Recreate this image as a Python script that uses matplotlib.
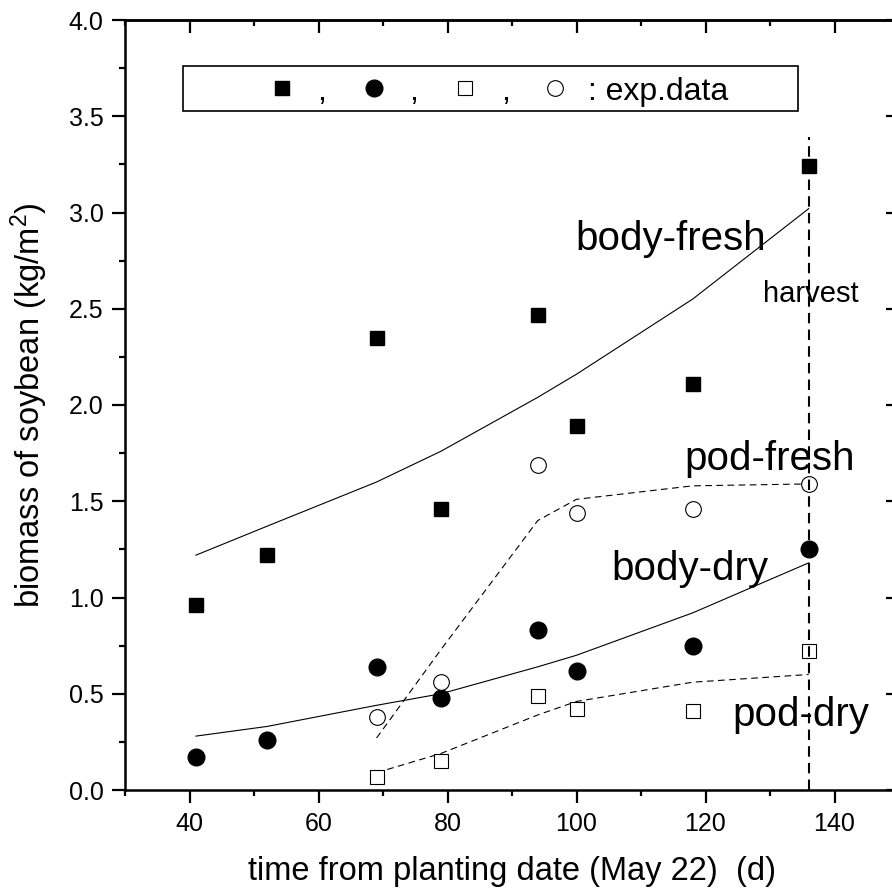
import matplotlib
matplotlib.use('Agg')
import matplotlib.pyplot as plt
from matplotlib.patches import Rectangle
from matplotlib.ticker import MultipleLocator

plt.rcParams['font.family'] = ['Liberation Sans', 'DejaVu Sans']
plt.rcParams['mathtext.fontset'] = 'custom'
plt.rcParams['mathtext.rm'] = 'Liberation Sans'

# measured biomass (kg/m2), days after planting
days = [41, 52, 69, 79, 94, 100, 118, 136]
body_fresh = [0.96, 1.22, 2.35, 1.46, 2.47, 1.89, 2.11, 3.24]
body_dry = [0.17, 0.26, 0.64, 0.48, 0.83, 0.62, 0.75, 1.25]

pod_days = [69, 79, 94, 100, 118, 136]
pod_fresh = [0.38, 0.56, 1.69, 1.44, 1.46, 1.59]
pod_dry = [0.07, 0.15, 0.49, 0.42, 0.41, 0.72]

# simulated curves
sim_body_fresh = [1.22, 1.37, 1.60, 1.76, 2.04, 2.16, 2.55, 3.02]
sim_body_dry = [0.28, 0.33, 0.44, 0.50, 0.64, 0.70, 0.92, 1.18]
sim_pod_fresh = [0.27, 0.73, 1.40, 1.51, 1.58, 1.59]
sim_pod_dry = [0.09, 0.19, 0.39, 0.46, 0.56, 0.60]

harvest_day = 136
harvest_top = 3.39

SPINE_LW = 1.8

fig = plt.figure(figsize=(8.92, 8.94), dpi=100)
ax = fig.add_axes([125 / 892, 104 / 894, 774 / 892, 770 / 894])

# model lines
ax.plot(days, sim_body_fresh, color='black', lw=0.8)
ax.plot(days, sim_body_dry, color='black', lw=0.8)
ax.plot(pod_days, sim_pod_fresh, color='black', lw=0.8, ls=(0, (6, 4)))
ax.plot(pod_days, sim_pod_dry, color='black', lw=0.8, ls=(0, (6, 4)))

# experimental points
ax.plot(days, body_fresh, 's', color='black', ms=10, ls='none')
ax.plot(days, body_dry, 'o', color='black', ms=12, ls='none')
ax.plot(pod_days, pod_dry, 's', mfc='white', mec='black', mew=0.8, ms=10, ls='none')
ax.plot(pod_days, pod_fresh, 'o', mfc='white', mec='black', mew=0.8, ms=11.3, ls='none')

ax.vlines(harvest_day, 0, harvest_top, colors='black', lw=1.5, linestyles=[(0, (5, 3))])

# curve names
big = 29
ax.text(99.8, 2.805, 'body-fresh', fontsize=big, va='baseline')
ax.text(116.8, 1.662, 'pod-fresh', fontsize=big, va='baseline')
ax.text(105.4, 1.091, 'body-dry', fontsize=big, va='baseline')
ax.text(124.2, 0.332, 'pod-dry', fontsize=big, va='baseline')
ax.text(128.9, 2.537, 'harvest', fontsize=21, va='baseline')

# marker key in a box at the top
ax.add_patch(Rectangle((0.0749, 0.8818), 0.7946, 0.0591, transform=ax.transAxes,
                       facecolor='white', edgecolor='black', lw=1.2, zorder=5))
key_y = 0.9117
ax.plot([0.2028], [key_y], 's', color='black', ms=10, transform=ax.transAxes, zorder=6)
ax.plot([0.3217], [key_y], 'o', color='black', ms=12, transform=ax.transAxes, zorder=6)
ax.plot([0.4393], [key_y], 's', mfc='white', mec='black', mew=0.8, ms=10,
        transform=ax.transAxes, zorder=6)
ax.plot([0.5556], [key_y], 'o', mfc='white', mec='black', mew=0.8, ms=11.3,
        transform=ax.transAxes, zorder=6)
for cx in (0.2545, 0.3734, 0.491):
    ax.text(cx, 0.896, ',', fontsize=23, ha='center', va='baseline',
            transform=ax.transAxes, zorder=6)
ax.text(0.5985, 0.896, ': exp.data', fontsize=23, ha='left', va='baseline',
        transform=ax.transAxes, zorder=6)

ax.set_xlim(30, 150)
ax.set_ylim(0, 4.0)
ax.xaxis.set_major_locator(MultipleLocator(20))
ax.xaxis.set_minor_locator(MultipleLocator(10))
ax.yaxis.set_major_locator(MultipleLocator(0.5))
ax.yaxis.set_minor_locator(MultipleLocator(0.25))
ax.yaxis.set_major_formatter(plt.FormatStrFormatter('%.1f'))

ax.tick_params(which='both', direction='out', width=1.6, labelsize=18)
ax.tick_params(which='major', length=9.5, pad=6)
ax.tick_params(which='minor', length=4.5)
for sp in ax.spines.values():
    sp.set_linewidth(SPINE_LW)

# inward ticks on the top and right frame
top = ax.secondary_xaxis('top')
top.xaxis.set_major_locator(MultipleLocator(20))
top.xaxis.set_minor_locator(MultipleLocator(10))
top.tick_params(which='both', direction='in', width=1.6, labeltop=False)
top.tick_params(which='major', length=9.5)
top.tick_params(which='minor', length=4.5)
right = ax.secondary_yaxis('right')
right.yaxis.set_major_locator(MultipleLocator(0.5))
right.yaxis.set_minor_locator(MultipleLocator(0.25))
right.tick_params(which='both', direction='in', width=1.6, labelright=False)
right.tick_params(which='major', length=9.5)
right.tick_params(which='minor', length=4.5)
for sec in (top, right):
    for sp in sec.spines.values():
        sp.set_linewidth(SPINE_LW)

ax.set_xlabel('time from planting date (May 22)  (d)', fontsize=23.5)
ax.set_ylabel('biomass of soybean (kg/m$\\mathregular{^2}$)', fontsize=23.5)
ax.xaxis.set_label_coords(0.5, -0.086)
ax.yaxis.set_label_coords(-0.097, 0.5)

fig.savefig('out.png', dpi=100)
